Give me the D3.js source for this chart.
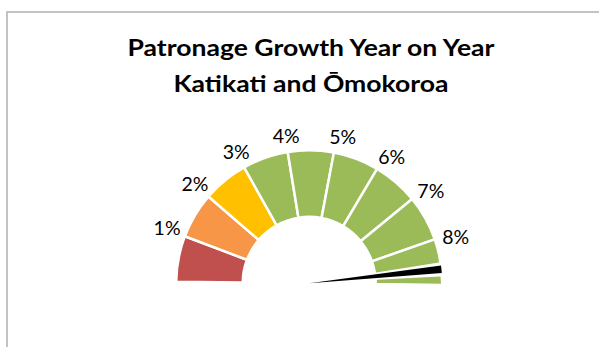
<!DOCTYPE html>
<html>
<head>
<meta charset="utf-8">
<script src="https://cdn.jsdelivr.net/npm/d3@7"></script>
<style>
  html, body { margin: 0; padding: 0; background: #ffffff; }
  svg { display: block; }
</style>
</head>
<body>
<svg id="chart" width="599" height="347"></svg>
<script>
// Gauge bands: each band spans one percentage point of growth
const bandStarts = [0, 1, 2, 3, 4, 5, 6, 7, 8];
const bandEnds   = [1, 2, 3, 4, 5, 6, 7, 8, 9];
const bandColors = ["#C0504D", "#F79646", "#FFC000", "#9BBB59", "#9BBB59",
                    "#9BBB59", "#9BBB59", "#9BBB59", "#9BBB59"];

// Tick labels at band boundaries
const tickValues = [1, 2, 3, 4, 5, 6, 7, 8];
const tickLabels = ["1%", "2%", "3%", "4%", "5%", "6%", "7%", "8%"];

// Needle: position on the dial and its thickness (in % units)
const needleValue = 8.58;
const needleWidth = 0.165;

const titleLines = ["Patronage Growth Year on Year", "Katikati and Ōmokoroa"];

const svg = d3.select("#chart");

// chart frame
svg.append("rect")
  .attr("x", 7).attr("y", 12)
  .attr("width", 700).attr("height", 500)
  .attr("fill", "#ffffff")
  .attr("stroke", "#c3c3c3")
  .attr("stroke-width", 2);

// title (slightly widened lettering)
const title = svg.append("g")
  .attr("transform", "translate(311,0) scale(1.13,1)")
  .append("text")
  .attr("text-anchor", "middle")
  .attr("font-family", "Lato, 'Open Sans', sans-serif")
  .attr("font-weight", "bold")
  .attr("font-size", 23.5)
  .attr("fill", "#000000");
title.selectAll("tspan").data(titleLines).join("tspan")
  .attr("x", 0)
  .attr("y", (d, i) => 56.5 + i * 35.5)
  .text(d => d);

// dial geometry
const cx = 309.2, cy = 283.3;
const rOuter = 133, rInner = 66.5;
const tilt = 0.7 * Math.PI / 180;

const angle = d3.scaleLinear()
  .domain([0, 9])
  .range([-Math.PI / 2 + tilt, Math.PI / 2 + tilt]);

const g = svg.append("g").attr("transform", `translate(${cx},${cy})`);

const bandArc = d3.arc()
  .innerRadius(rInner)
  .outerRadius(rOuter);

g.selectAll("path.band")
  .data(bandStarts.map((s, i) => ({ s, e: bandEnds[i], c: bandColors[i] })))
  .join("path")
  .attr("class", "band")
  .attr("d", d => bandArc({ startAngle: angle(d.s), endAngle: angle(d.e) }))
  .attr("fill", d => d.c)
  .attr("stroke", "#ffffff")
  .attr("stroke-width", 2.5)
  .attr("stroke-linejoin", "miter");

// needle, with a white rim that cuts through the band beneath it
const needleArc = d3.arc().innerRadius(0);
const rim = 0.07;
g.append("path")
  .attr("d", needleArc.outerRadius(rOuter + 3)({
    startAngle: angle(needleValue - rim),
    endAngle: angle(needleValue + needleWidth + rim)
  }))
  .attr("fill", "#ffffff");
g.append("path")
  .attr("d", needleArc.outerRadius(rOuter)({
    startAngle: angle(needleValue),
    endAngle: angle(needleValue + needleWidth)
  }))
  .attr("fill", "#000000");

// tick labels placed just outside the dial at each boundary
const labelTilt = tilt + 0.02;
const labelAngle = d3.scaleLinear()
  .domain([0, 9])
  .range([Math.PI - labelTilt, -labelTilt]); // screen angle, counter-clockwise from +x
const labelRadius = 138;
const ox = cx + 0.5, oy = cy;

svg.append("g").selectAll("text")
  .data(tickValues.map((v, i) => ({ v, t: tickLabels[i] })))
  .join("text")
  .attr("font-family", "Lato, 'Open Sans', sans-serif")
  .attr("font-size", 19.5)
  .attr("fill", "#000000")
  .attr("text-anchor", "middle")
  .text(d => d.t)
  .each(function (d) {
    const bb = this.getBBox();
    const a = labelAngle(d.v);
    const ux = Math.cos(a), uy = -Math.sin(a);
    const px = ox + labelRadius * ux + ux * bb.width / 2 + Math.sign(ux) * 2;
    const py = oy + labelRadius * uy + uy * bb.height / 2;
    // center the glyph box on (px, py)
    d3.select(this).attr("x", px).attr("y", py - (bb.y + bb.height / 2));
  });
</script>
</body>
</html>
